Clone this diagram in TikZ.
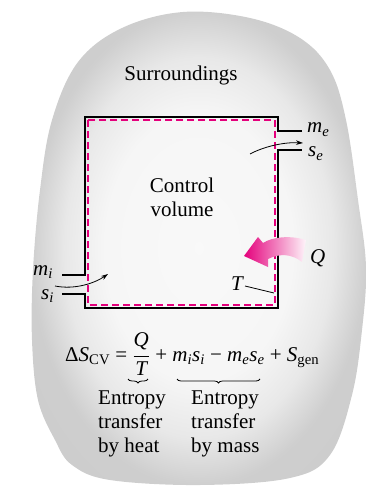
\documentclass[tikz,border=0pt]{standalone}
\usepackage{fontspec}
\setmainfont{Liberation Serif}
\usetikzlibrary{decorations.pathreplacing,arrows.meta}
\definecolor{pinkc}{RGB}{228,0,124}
\pgfdeclareradialshading{blobshade}{\pgfpoint{0bp}{0bp}}{color(0bp)=(gray!5); color(14bp)=(gray!7); color(20bp)=(gray!18); color(25bp)=(gray!38); color(50bp)=(gray!45)}
\tikzset{
  lbl/.style={font=\fontsize{21}{24}\selectfont, inner sep=0pt},
  wall/.style={line width=1.4pt, black},
  cvline/.style={line width=1.2pt, pinkc, dash pattern=on 7pt off 4pt},
  flow/.style={line width=0.8pt, -{Stealth[length=7pt,width=4.5pt]}},
  bracestyle/.style={line width=0.8pt, decorate, decoration={brace, mirror, amplitude=4pt}}
}
\begin{document}
\begin{tikzpicture}[x=1pt,y=-1pt]
\useasboundingbox (0,0) rectangle (368,486);
% surroundings blob
\shade[shading=blobshade] plot[smooth cycle, tension=0.6] coordinates {
 (183,12) (250,18) (300,38) (330,70) (346,120) (358,200) (366,267) (362,330)
 (352,395) (330,455) (290,478) (200,485) (110,480) (72,465) (55,440) (38,400)
 (32,340) (33,270) (40,190) (52,120) (78,62) (122,28)};
% control volume walls
\coordinate (wTL) at (85,117);
\coordinate (wTR) at (278,117);
\coordinate (eTop) at (278,131);
\coordinate (eTopO) at (302,131);
\coordinate (eBotO) at (302,150);
\coordinate (eBot) at (278,150);
\coordinate (wBR) at (278,308);
\coordinate (wBL) at (85,308);
\coordinate (iBot) at (85,294);
\coordinate (iBotO) at (62,294);
\coordinate (iTopO) at (62,275);
\coordinate (iTop) at (85,275);
\draw[wall] (eTopO) -- (eTop) -- (wTR) -- (wTL) -- (iTop) -- (iTopO);
\draw[wall] (iBotO) -- (iBot) -- (wBL) -- (wBR) -- (eBot) -- (eBotO);
% control surface (dashed)
\coordinate (cTL) at (88,120);
\coordinate (cBR) at (275,305);
\draw[cvline] (cTL) rectangle (cBR);
% heat arrow
\shade[left color=pinkc, right color=pinkc!4]
  (306,240) .. controls (290,235) and (272,237) .. (263,243)
  -- (258,237) -- (244,256) -- (268,267) -- (268,259)
  .. controls (280,253) and (292,254) .. (302,262) -- cycle;
% labels
\node[lbl] (sur) at (181,75) {Surroundings};
\node[lbl, align=center] (cv) at (182,197) {Control\\volume};
\node[lbl, anchor=base west] (me) at (307,133) {\textit{m}\textsubscript{\textit{e}}};
\node[lbl, anchor=base west] (se) at (308,157) {\textit{s}\textsubscript{\textit{e}}};
\node[lbl, anchor=base west] (mi) at (33,275) {\textit{m}\textsubscript{\textit{i}}};
\node[lbl, anchor=base west] (si) at (41,299) {\textit{s}\textsubscript{\textit{i}}};
\node[lbl, anchor=base west] (Q) at (310,263) {\textit{Q}};
\node[lbl, anchor=base west] (T) at (231,290) {\textit{T}};
% mass flow arrows
\coordinate (inS) at (55,286);
\coordinate (inE) at (108,274);
\coordinate (outS) at (250,154);
\coordinate (outE) at (303,143);
\draw[flow] (inS) .. controls (75,290) and (95,283) .. (inE);
\draw[flow] (outS) .. controls (265,146) and (285,142) .. (outE);
% T leader
\coordinate (Tstart) at (245,286);
\coordinate (Tend) at (274,293);
\draw[line width=0.8pt] (Tstart) -- (Tend);
% equation
\node[lbl, anchor=base west] (eq) at (65,361) {Δ\textit{S}\textsubscript{CV} = $\displaystyle\frac{\textit{Q}}{\textit{T}}$ + \textit{m}\textsubscript{\textit{i}}\textit{s}\textsubscript{\textit{i}} − \textit{m}\textsubscript{\textit{e}}\textit{s}\textsubscript{\textit{e}} + \textit{S}\textsubscript{gen}};
\coordinate (b1a) at (128,379);
\coordinate (b1b) at (148,379);
\coordinate (b2a) at (177,379);
\coordinate (b2b) at (260,379);
\draw[bracestyle] (b1a) -- (b1b);
\draw[bracestyle] (b2a) -- (b2b);
\node[lbl, anchor=base west, align=left] (heat) at (98,452) {Entropy\\transfer\\by heat};
\node[lbl, anchor=base west, align=left] (mass) at (191,452) {Entropy\\transfer\\by mass};
\end{tikzpicture}
\end{document}
